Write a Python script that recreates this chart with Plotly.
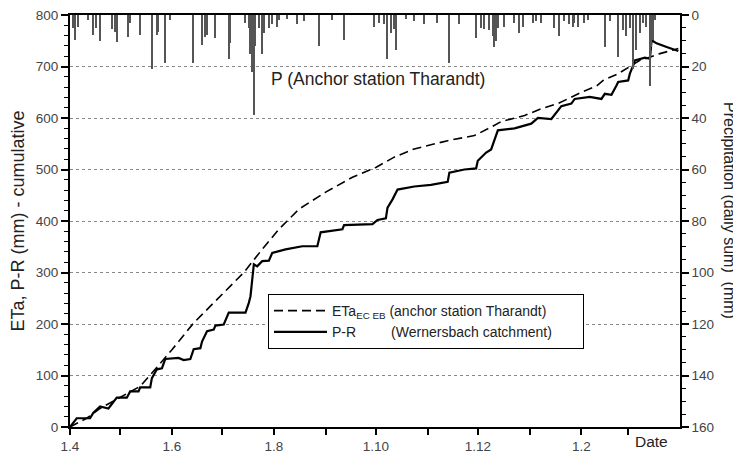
import pandas as pd
import plotly.graph_objects as go

# ---------------- data (days counted from 1 April) ----------------
start_date = "2000-04-01"

eta_day = [0, 10, 18, 30, 42, 48, 61, 74, 88, 96, 104, 115, 125, 137, 153, 169, 183,
           194, 206, 226, 242, 250, 258, 272, 282, 292, 306, 315, 319, 328, 341, 346,
           353, 362, 364]
eta_val = [0, 17, 36, 57, 79, 101, 150, 202, 248, 274, 300, 345, 384, 423, 456, 485, 504,
           524, 540, 556, 566, 579, 593, 605, 618, 628, 650, 662, 673, 686, 712, 717,
           725, 733, 735]

pr_day = [0, 4, 12, 14, 18, 23, 28, 34, 36, 41, 42, 48, 49, 52, 55, 57, 65, 68, 72, 74,
          78, 79, 82, 86, 87, 92, 95, 105, 107, 108, 110, 112, 115, 119, 121, 129, 139,
          148, 150, 157, 163, 164, 181, 184, 189, 190, 193, 196, 200, 206, 216, 226, 227,
          236, 243, 244, 249, 252, 256, 266, 276, 280, 288, 290, 294, 300, 302, 311, 318,
          320, 324, 327, 328, 334, 335, 337, 338, 344, 347, 348, 349, 351, 357, 362, 364]
pr_val = [0, 17, 17, 28, 40, 36, 57, 57, 69, 69, 77, 77, 95, 112, 114, 132, 134, 130, 132,
          151, 153, 166, 186, 189, 197, 199, 222, 222, 241, 254, 316, 312, 322, 323, 338,
          345, 351, 351, 378, 381, 384, 392, 394, 402, 405, 426, 442, 461, 463, 467, 470,
          476, 494, 500, 502, 517, 533, 539, 576, 580, 589, 600, 598, 606, 623, 628, 637,
          641, 637, 647, 645, 663, 670, 673, 686, 702, 712, 717, 715, 751, 749, 745, 738,
          732, 730]

rain_day = [2, 3, 5, 11, 14, 16, 18, 25, 27, 28, 35, 36, 42, 49, 52, 53, 57, 60, 74, 79,
            81, 82, 87, 95, 96, 105, 107, 108, 109, 110, 111, 113, 115, 116, 119, 121,
            124, 125, 130, 136, 140, 149, 157, 164, 182, 185, 188, 190, 192, 194, 195,
            201, 206, 212, 220, 227, 233, 243, 246, 248, 251, 253, 254, 255, 256, 260,
            266, 269, 271, 277, 279, 282, 290, 293, 296, 299, 301, 302, 304, 308, 310,
            320, 323, 328, 331, 333, 335, 337, 339, 341, 343, 345, 347, 348, 349, 350]
rain_mm = [5, 9.7, 4.5, 2, 7.8, 5, 10, 5.5, 6.5, 10.4, 8.4, 3, 7.8, 21, 7.8, 6.5, 18.6, 2,
           18.8, 11.7, 8.5, 7.8, 9, 16.9, 11, 3, 5, 15, 22, 39, 12, 5, 15, 7, 5, 3.5, 4.5,
           2, 1.5, 3.5, 2.5, 12, 2, 9.7, 4.5, 3, 3.5, 17, 7, 5.5, 13.4, 1.5, 2.5, 3.5, 3,
           18.8, 3.5, 9, 5, 5.5, 6, 8, 12.3, 10, 5, 4.5, 3, 7, 4.5, 3, 2.5, 3, 5, 8, 2.5,
           3.5, 4.5, 3, 4.5, 3, 2, 12.3, 2.5, 16.2, 6, 8, 5, 20.8, 13.6, 7, 3, 4.5, 27.7,
           12.3, 9.7, 2]

major_ticks = ["2000-04-01", "2000-06-01", "2000-08-01", "2000-10-01", "2000-12-01", "2001-02-01"]
major_labels = ["1.4", "1.6", "1.8", "1.10", "1.12", "1.2"]
minor_ticks = ["2000-05-01", "2000-07-01", "2000-09-01", "2000-11-01", "2001-01-01", "2001-03-01"]

# -------------------------------------------------------------------
t0 = pd.Timestamp(start_date)
def to_dates(days):
    return [t0 + pd.Timedelta(days=float(d)) for d in days]

FONT = "Liberation Sans, Arial, sans-serif"
NB = "\u00a0"

# the page body has an 8px default margin: size the figure so it fills the window
PAGE_OFF = 8
W, H = 741 - PAGE_OFF, 453 - PAGE_OFF
# plot area in page pixels: x 70..680, y 15..427
PL, PR, PT, PB = 70, 680, 15, 427

def px(xp):
    return (xp - PL) / (PR - PL)

def py(yp):
    return (PB - yp) / (PB - PT)

fig = go.Figure()

fig.add_trace(go.Scatter(
    x=to_dates(eta_day), y=eta_val, mode="lines",
    name="ETa<sub>EC EB</sub> (anchor station Tharandt)" + NB * 8,
    line=dict(color="black", width=1.6, dash="9px,5px"),
))
fig.add_trace(go.Scatter(
    x=to_dates(pr_day), y=pr_val, mode="lines",
    name="P-R" + NB * 9 + "(Wernersbach catchment)",
    line=dict(color="black", width=2.2),
))
fig.add_trace(go.Bar(
    x=to_dates(rain_day), y=rain_mm, yaxis="y2", showlegend=False,
    marker=dict(color="#555555", line=dict(width=0)),
    width=86400000 * 0.9,
))

tickfont = dict(family=FONT, size=13.5, color="#444444")

fig.update_layout(
    width=W, height=H,
    margin=dict(l=PL - PAGE_OFF, r=W - (PR - PAGE_OFF), t=PT - PAGE_OFF,
                b=H - (PB - PAGE_OFF), autoexpand=False),
    paper_bgcolor="white", plot_bgcolor="white",
    font=dict(family=FONT, color="#222222"),
    bargap=0,
    xaxis=dict(
        type="date", automargin=False, ticklabeloverflow="allow",
        range=[t0, t0 + pd.Timedelta(days=365)],
        tickmode="array", tickvals=major_ticks, ticktext=major_labels,
        ticks="outside", ticklen=6, tickwidth=1.5, tickcolor="black",
        minor=dict(tickmode="array", tickvals=minor_ticks, ticks="outside",
                   ticklen=6, tickwidth=1.5, tickcolor="black"),
        showline=True, linecolor="black", linewidth=2, mirror=True,
        showgrid=False, zeroline=False, tickfont=tickfont,
    ),
    yaxis=dict(
        automargin=False, ticklabeloverflow="allow",
        range=[0, 800], dtick=100, tick0=0,
        ticks="outside", ticklen=7, tickwidth=1.5, tickcolor="black",
        minor=dict(dtick=20, ticks="outside", ticklen=4, tickwidth=1, tickcolor="black",
                   showgrid=False),
        showline=True, linecolor="black", linewidth=2,
        showgrid=True, gridcolor="#888888", griddash="dot", gridwidth=1,
        zeroline=False, tickfont=tickfont,
        title=dict(text="ETa, P-R (mm) - cumulative",
                   font=dict(family=FONT, size=18, color="#222222"), standoff=18),
    ),
    yaxis2=dict(
        automargin=False, ticklabeloverflow="allow",
        overlaying="y", side="right",
        range=[160, 0], dtick=20, tick0=0,
        ticks="outside", ticklen=7, tickwidth=1.5, tickcolor="black",
        minor=dict(dtick=5, ticks="outside", ticklen=4, tickwidth=1, tickcolor="black"),
        showline=True, linecolor="black", linewidth=1.5,
        showgrid=False, zeroline=False, tickfont=tickfont,
    ),
    legend=dict(
        x=px(268), y=py(294), xanchor="left", yanchor="top",
        bordercolor="black", borderwidth=1, bgcolor="white",
        font=dict(family=FONT, size=14, color="#222222"),
        tracegroupgap=0, itemwidth=53,
    ),
    annotations=[
        dict(text="P (Anchor station Tharandt)", xref="paper", yref="paper",
             x=px(269), y=py(79), xanchor="left", yanchor="middle",
             showarrow=False, font=dict(family=FONT, size=17.5, color="#222222")),
        dict(text="Precipitation (daily sum)  (mm)", xref="paper", yref="paper",
             x=px(730), y=py(210), xanchor="center", yanchor="middle", showarrow=False,
             textangle=90, font=dict(family=FONT, size=16, color="#222222")),
        dict(text="Date", xref="paper", yref="paper",
             x=px(651), y=py(441), xanchor="center", yanchor="middle",
             showarrow=False, font=dict(family=FONT, size=15.5, color="#222222")),
    ],
)

fig.write_html("out.html")
